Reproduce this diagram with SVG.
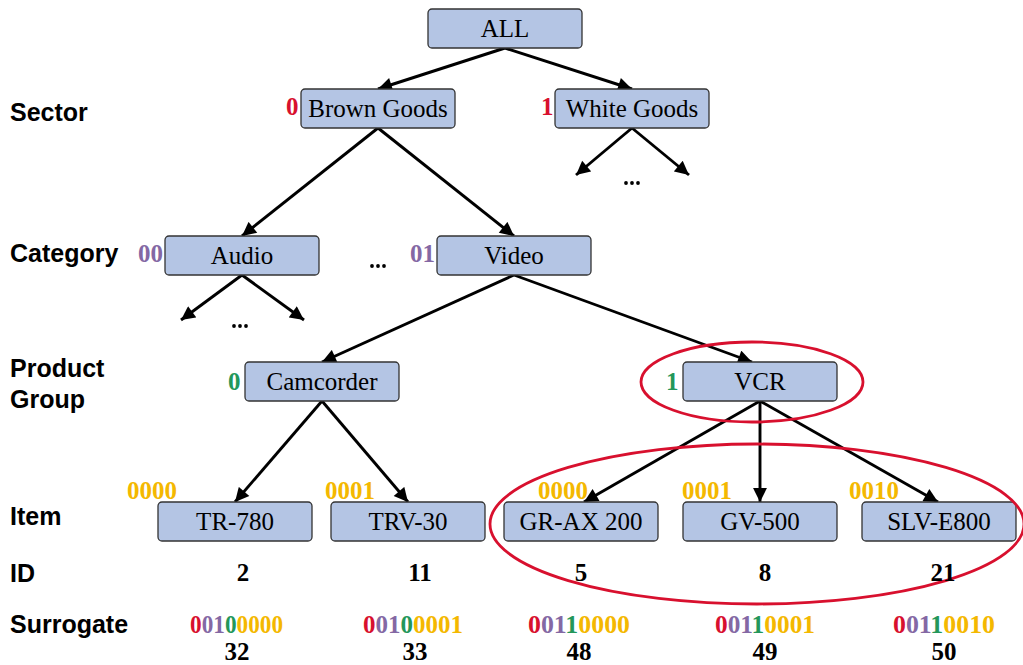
<svg xmlns="http://www.w3.org/2000/svg" width="1023" height="665" viewBox="0 0 1023 665">
  <style>
    .box { fill: #b4c5e4; stroke: #333333; stroke-width: 1.3; }
    .nt { font-family: "Liberation Serif", "Times New Roman", serif; font-size: 25px; fill: #000; text-anchor: middle; }
    .lvl { font-family: "Liberation Sans", Arial, sans-serif; font-size: 25px; font-weight: bold; fill: #000; }
    .code { font-family: "Liberation Serif", "Times New Roman", serif; font-size: 25px; font-weight: bold; }
    .num { font-family: "Liberation Serif", "Times New Roman", serif; font-size: 25px; font-weight: bold; fill: #000; text-anchor: middle; }
    .edge { stroke: #000; stroke-width: 2.9; fill: none; marker-end: url(#arr); }
    .ring { fill: none; stroke: #d8102e; stroke-width: 2.8; }
    .r { fill: #d8102e; }
    .p { fill: #8468a4; }
    .g { fill: #23975a; }
    .y { fill: #f4b800; }
  </style>
  <defs>
    <marker id="arr" viewBox="0 0 10 10" refX="10" refY="5" markerWidth="5.2" markerHeight="4.8" orient="auto" markerUnits="strokeWidth">
      <path d="M0,0 L10,5 L0,10 z" fill="#000"/>
    </marker>
    <!-- three-dot ellipsis glyph for elided siblings -->
    <g id="dots">
      <circle cx="-6" cy="0" r="1.9"/>
      <circle cx="0" cy="0" r="1.9"/>
      <circle cx="6" cy="0" r="1.9"/>
    </g>
  </defs>

  <!-- level labels -->
  <g id="levels">
    <text class="lvl" x="10" y="121">Sector</text>
    <text class="lvl" x="10" y="262">Category</text>
    <text class="lvl" x="10" y="377">Product</text>
    <text class="lvl" x="10" y="408">Group</text>
    <text class="lvl" x="10" y="525">Item</text>
    <text class="lvl" x="10" y="582">ID</text>
    <text class="lvl" x="10" y="633">Surrogate</text>
  </g>

  <!-- connectors -->
  <g id="connectors">
    <line class="edge" x1="505" y1="48" x2="378" y2="89"/>
    <line class="edge" x1="505" y1="48" x2="632" y2="89"/>
    <line class="edge" x1="378" y1="128" x2="242" y2="236"/>
    <line class="edge" x1="378" y1="128" x2="514" y2="236"/>
    <line class="edge" x1="632" y1="128" x2="576" y2="175"/>
    <line class="edge" x1="632" y1="128" x2="689" y2="175"/>
    <line class="edge" x1="242" y1="275" x2="181" y2="320"/>
    <line class="edge" x1="242" y1="275" x2="304" y2="320"/>
    <line class="edge" x1="514" y1="275" x2="322" y2="362"/>
    <line class="edge" x1="514" y1="275" x2="752" y2="362"/>
    <line class="edge" x1="322" y1="401" x2="235" y2="502"/>
    <line class="edge" x1="322" y1="401" x2="408" y2="502"/>
    <line class="edge" x1="760" y1="401" x2="584" y2="502"/>
    <line class="edge" x1="760" y1="401" x2="760" y2="502"/>
    <line class="edge" x1="760" y1="401" x2="938" y2="502"/>
  </g>

  <!-- nodes -->
  <g id="node-all">
    <rect class="box" x="428" y="9" width="154" height="39" rx="4"/>
    <text class="nt" x="505" y="37">ALL</text>
  </g>
  <g id="node-brown-goods">
    <rect class="box" x="301" y="89" width="154" height="39" rx="4"/>
    <text class="nt" x="378" y="117">Brown Goods</text>
    <text class="code r" x="286" y="115">0</text>
  </g>
  <g id="node-white-goods">
    <rect class="box" x="555" y="89" width="154" height="39" rx="4"/>
    <text class="nt" x="632" y="117">White Goods</text>
    <text class="code r" x="541" y="115">1</text>
  </g>
  <g id="node-audio">
    <rect class="box" x="165" y="236" width="154" height="39" rx="4"/>
    <text class="nt" x="242" y="264">Audio</text>
    <text class="code p" x="138" y="262">00</text>
  </g>
  <g id="node-video">
    <rect class="box" x="437" y="236" width="154" height="39" rx="4"/>
    <text class="nt" x="514" y="264">Video</text>
    <text class="code p" x="410" y="262">01</text>
  </g>
  <g id="node-camcorder">
    <rect class="box" x="245" y="362" width="154" height="39" rx="4"/>
    <text class="nt" x="322" y="390">Camcorder</text>
    <text class="code g" x="228" y="390">0</text>
  </g>
  <g id="node-vcr">
    <rect class="box" x="683" y="362" width="154" height="39" rx="4"/>
    <text class="nt" x="760" y="390">VCR</text>
    <text class="code g" x="666" y="390">1</text>
  </g>
  <g id="node-tr-780">
    <rect class="box" x="158" y="502" width="154" height="39" rx="4"/>
    <text class="nt" x="235" y="530">TR-780</text>
    <text class="code y" x="127" y="499">0000</text>
  </g>
  <g id="node-trv-30">
    <rect class="box" x="331" y="502" width="154" height="39" rx="4"/>
    <text class="nt" x="408" y="530">TRV-30</text>
    <text class="code y" x="325" y="499">0001</text>
  </g>
  <g id="node-gr-ax-200">
    <rect class="box" x="504" y="502" width="154" height="39" rx="4"/>
    <text class="nt" x="581" y="530">GR-AX 200</text>
    <text class="code y" x="538" y="499">0000</text>
  </g>
  <g id="node-gv-500">
    <rect class="box" x="683" y="502" width="154" height="39" rx="4"/>
    <text class="nt" x="760" y="530">GV-500</text>
    <text class="code y" x="682" y="499">0001</text>
  </g>
  <g id="node-slv-e800">
    <rect class="box" x="862" y="502" width="154" height="39" rx="4"/>
    <text class="nt" x="939" y="530">SLV-E800</text>
    <text class="code y" x="849" y="499">0010</text>
  </g>

  <!-- elided siblings -->
  <g id="ellipses" fill="#000">
    <use href="#dots" x="632" y="183"/>
    <use href="#dots" x="378" y="266"/>
    <use href="#dots" x="240" y="326"/>
  </g>

  <!-- highlight rings -->
  <g id="highlights">
    <ellipse class="ring" cx="752" cy="382" rx="111" ry="40"/>
    <ellipse class="ring" cx="757" cy="524" rx="267" ry="80"/>
  </g>

  <!-- IDs -->
  <g id="ids">
    <text class="num" x="243" y="581">2</text>
    <text class="num" x="420" y="581">11</text>
    <text class="num" x="581" y="581">5</text>
    <text class="num" x="765" y="581">8</text>
    <text class="num" x="943" y="581">21</text>
  </g>

  <!-- surrogate keys -->
  <g id="surrogates">
    <text class="code" x="190" y="633" textLength="93" lengthAdjust="spacingAndGlyphs"><tspan class="r">0</tspan><tspan class="p">01</tspan><tspan class="g">0</tspan><tspan class="y">0000</tspan></text>
    <text class="code" x="363" y="633" textLength="100" lengthAdjust="spacingAndGlyphs"><tspan class="r">0</tspan><tspan class="p">01</tspan><tspan class="g">0</tspan><tspan class="y">0001</tspan></text>
    <text class="code" x="528" y="633" textLength="102" lengthAdjust="spacingAndGlyphs"><tspan class="r">0</tspan><tspan class="p">01</tspan><tspan class="g">1</tspan><tspan class="y">0000</tspan></text>
    <text class="code" x="715" y="633" textLength="100" lengthAdjust="spacingAndGlyphs"><tspan class="r">0</tspan><tspan class="p">01</tspan><tspan class="g">1</tspan><tspan class="y">0001</tspan></text>
    <text class="code" x="893" y="633" textLength="102" lengthAdjust="spacingAndGlyphs"><tspan class="r">0</tspan><tspan class="p">01</tspan><tspan class="g">1</tspan><tspan class="y">0010</tspan></text>
    <text class="num" x="237" y="660">32</text>
    <text class="num" x="415" y="660">33</text>
    <text class="num" x="579" y="660">48</text>
    <text class="num" x="765" y="660">49</text>
    <text class="num" x="944" y="660">50</text>
  </g>
</svg>
